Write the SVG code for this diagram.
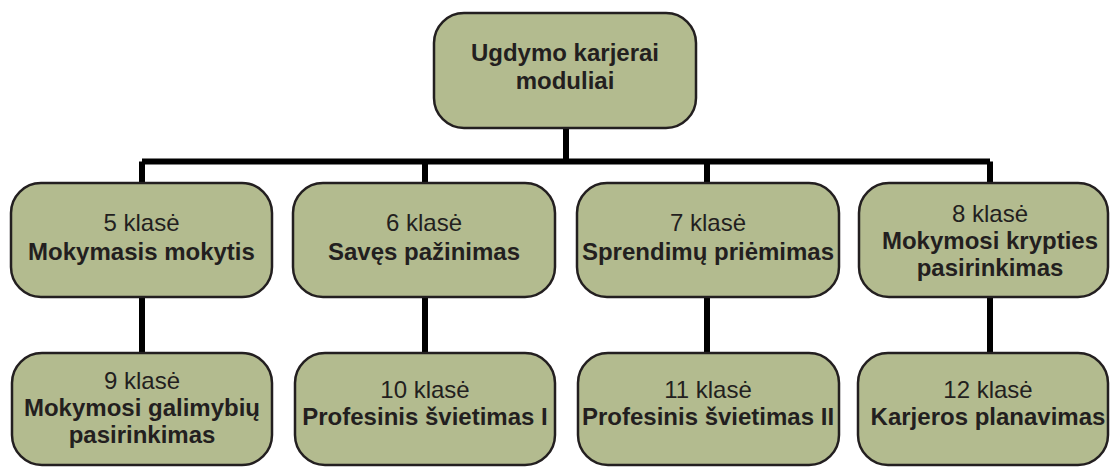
<svg xmlns="http://www.w3.org/2000/svg" width="1110" height="467" viewBox="0 0 1110 467">
  <style>
    .box { fill: #b3bb8f; stroke: #231f20; stroke-width: 2.5; }
    .conn { stroke: #000000; stroke-width: 6; fill: none; }
    text { font-family: "Liberation Sans", Arial, sans-serif; font-size: 24px; fill: #231f20; text-anchor: middle; }
    .b { font-weight: bold; }
  </style>
  <rect width="1110" height="467" fill="#ffffff"/>
  <g id="connectors">
    <path class="conn" d="M566 128 V161.5 M142 161.5 H990 M142 161.5 V184 M425 161.5 V184 M707 161.5 V184 M990 161.5 V184"/>
    <path class="conn" d="M142 297 V354 M425 297 V354 M707 297 V354 M990 297 V354"/>
  </g>
  <g id="root">
    <rect class="box" x="434" y="13" width="262" height="115" rx="30"/>
    <text class="b" x="565" y="61">Ugdymo karjerai</text>
    <text class="b" x="565" y="89">moduliai</text>
  </g>
  <g id="n5">
    <rect class="box" x="11" y="183" width="261" height="114" rx="30"/>
    <text x="141.5" y="231">5 klasė</text>
    <text class="b" x="141.5" y="260">Mokymasis mokytis</text>
  </g>
  <g id="n6">
    <rect class="box" x="293" y="183" width="262" height="114" rx="30"/>
    <text x="424" y="231">6 klasė</text>
    <text class="b" x="424" y="260">Savęs pažinimas</text>
  </g>
  <g id="n7">
    <rect class="box" x="577" y="183" width="262" height="114" rx="30"/>
    <text x="708" y="231">7 klasė</text>
    <text class="b" x="708" y="260">Sprendimų priėmimas</text>
  </g>
  <g id="n8">
    <rect class="box" x="859" y="183" width="249" height="114" rx="30"/>
    <text x="990" y="222">8 klasė</text>
    <text class="b" x="990" y="249">Mokymosi krypties</text>
    <text class="b" x="990" y="276">pasirinkimas</text>
  </g>
  <g id="n9">
    <rect class="box" x="12" y="353" width="260" height="112" rx="30"/>
    <text x="142" y="389">9 klasė</text>
    <text class="b" x="142" y="416">Mokymosi galimybių</text>
    <text class="b" x="142" y="443">pasirinkimas</text>
  </g>
  <g id="n10">
    <rect class="box" x="295" y="353" width="260" height="112" rx="30"/>
    <text x="425" y="398">10 klasė</text>
    <text class="b" x="425" y="425">Profesinis švietimas I</text>
  </g>
  <g id="n11">
    <rect class="box" x="578" y="353" width="261" height="112" rx="30"/>
    <text x="708" y="398">11 klasė</text>
    <text class="b" x="708" y="425">Profesinis švietimas II</text>
  </g>
  <g id="n12">
    <rect class="box" x="858" y="353" width="250" height="112" rx="30"/>
    <text x="988" y="398">12 klasė</text>
    <text class="b" x="988" y="425">Karjeros planavimas</text>
  </g>
</svg>
